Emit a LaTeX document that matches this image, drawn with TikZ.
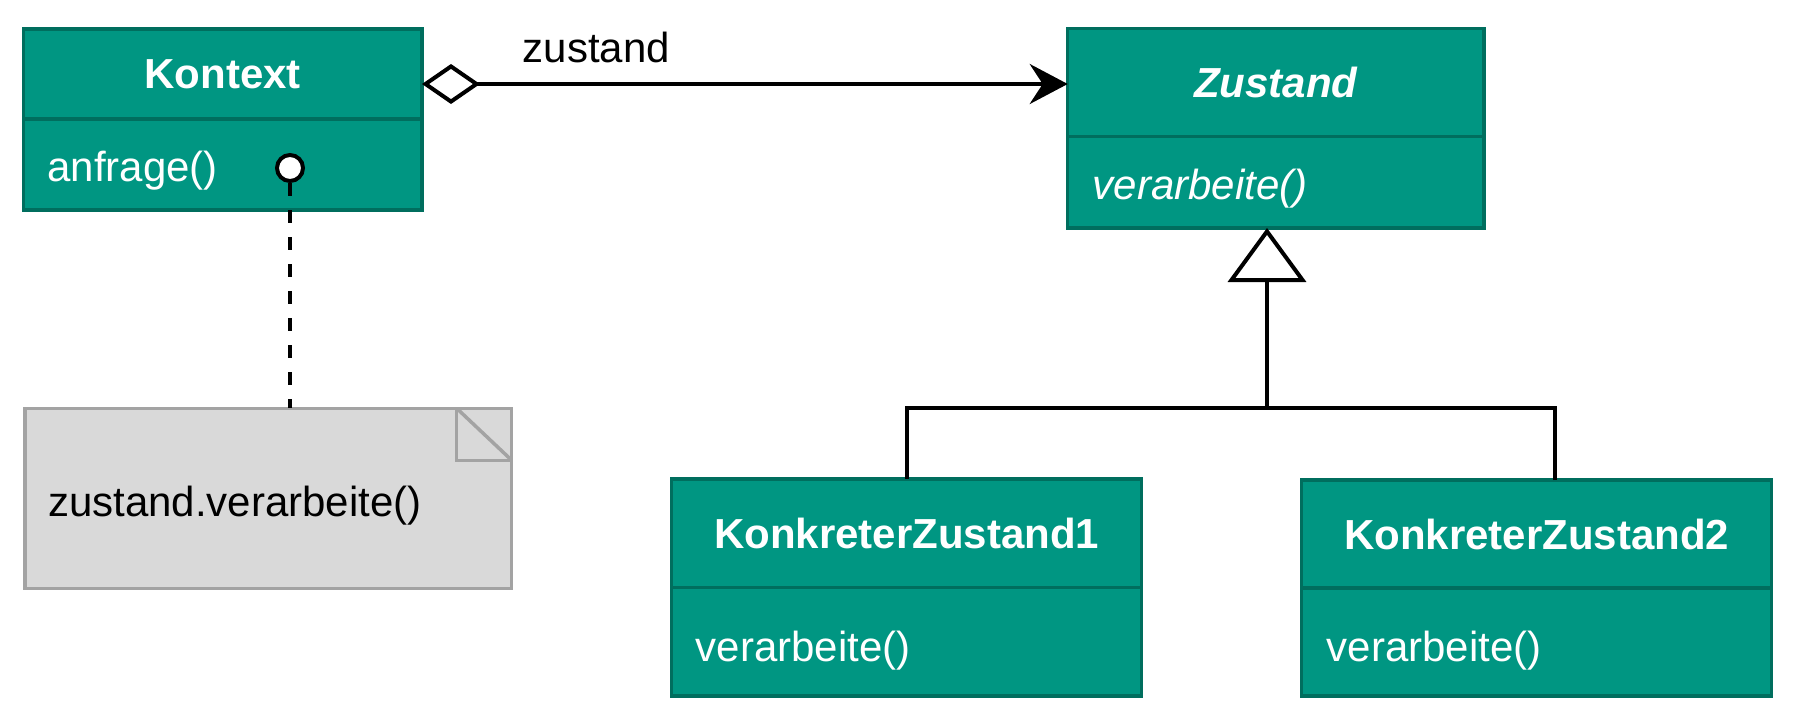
\documentclass[tikz,border=0pt]{standalone}
\usepackage{fontspec}
\setmainfont{Liberation Sans}
\usetikzlibrary{arrows.meta,calc}
\definecolor{teal1}{RGB}{0,150,130}
\definecolor{tealb}{RGB}{0,110,94}
\definecolor{notefill}{RGB}{217,217,217}
\definecolor{noteline}{RGB}{163,163,163}
\tikzset{
  fnt/.style={font=\fontsize{42pt}{50pt}\selectfont},
  classpart/.style={draw=tealb, fill=teal1, line width=3.5pt, inner sep=0pt, outer sep=0pt,
    anchor=north west, text=white, fnt},
  mtext/.style={inner sep=0pt, anchor=west, text=white, fnt},
  notebox/.style={draw=noteline, fill=notefill, line width=3.5pt, inner sep=0pt, outer sep=0pt,
    anchor=north west},
  conn/.style={line width=4pt, black},
  dashconn/.style={line width=4pt, black, dash pattern=on 13pt off 14pt},
}
\begin{document}
\begin{tikzpicture}[x=1pt,y=-1pt]
\useasboundingbox (0,0) rectangle (1793,712);

% Kontext
\node[classpart, minimum width=398.7pt, minimum height=90pt] (kontextH) at (23.3,29) {\bfseries Kontext};
\node[classpart, minimum width=398.7pt, minimum height=91pt] (kontextB) at (kontextH.south west) {};
\node[mtext] (kontextM) at ([xshift=24pt,yshift=-6.5pt]kontextB.west) {anfrage()};

% Zustand
\node[classpart, minimum width=416.3pt, minimum height=108.4pt] (zustandH) at (1067.7,28.3) {\bfseries\itshape Zustand};
\node[classpart, minimum width=416.3pt, minimum height=91.3pt] (zustandB) at (zustandH.south west) {};
\node[mtext] (zustandM) at ([xshift=25pt,yshift=-6.5pt]zustandB.west) {\itshape verarbeite()};

% KonkreterZustand1
\node[classpart, minimum width=470pt, minimum height=108.3pt] (kz1H) at (671.7,479) {\bfseries KonkreterZustand1};
\node[classpart, minimum width=470pt, minimum height=108.7pt] (kz1B) at (kz1H.south west) {};
\node[mtext] (kz1M) at ([xshift=24pt,yshift=-8.5pt]kz1B.west) {verarbeite()};

% KonkreterZustand2
\node[classpart, minimum width=470pt, minimum height=108pt] (kz2H) at (1301.7,480) {\bfseries KonkreterZustand2};
\node[classpart, minimum width=470pt, minimum height=108pt] (kz2B) at (kz2H.south west) {};
\node[mtext] (kz2M) at ([xshift=25pt,yshift=-8.5pt]kz2B.west) {verarbeite()};

% Note
\node[notebox, minimum width=486.7pt, minimum height=180pt] (note) at (25,408.3) {};
\draw[noteline, line width=3.5pt] ([xshift=-55pt]note.north east) -- ++(0,52) -- ++(55,0);
\draw[noteline, line width=3.5pt] ([xshift=-55pt]note.north east) -- ([yshift=-52pt]note.north east);
\node[inner sep=0pt, anchor=west, text=black, fnt] (noteT) at ([xshift=23pt,yshift=-7pt]note.west) {zustand.verarbeite()};

% circle + dashed link
\node[circle, draw=black, fill=white, line width=4pt, minimum size=26pt, inner sep=0pt] (circ) at (290,168) {};
\draw[dashconn] (circ.south) -- (circ |- note.north);

% association with aggregation
\coordinate (aggStart) at (kontextH.east |- 0,84);
\coordinate (aggEnd) at (zustandH.west |- 0,84);
\draw[conn, {Diamond[fill=white, length=58pt, width=40pt]}-{Stealth[length=38pt, width=40pt, inset=13pt]}] (aggStart) -- (aggEnd);
\node[inner sep=0pt, anchor=base, text=black, fnt] (zlabel) at (596.5,62.7) {zustand};

% inheritance
\coordinate (bus) at (1267,407.7);
\coordinate (kz2in) at (1555,480);
\coordinate (zin) at (bus |- zustandB.south);
\draw[conn] (kz1H.north) |- (bus);
\draw[conn] (kz2in) |- (bus);
\draw[conn, -{Triangle[open, fill=white, length=54pt, width=78pt]}] (bus) -- (zin);
\end{tikzpicture}
\end{document}
